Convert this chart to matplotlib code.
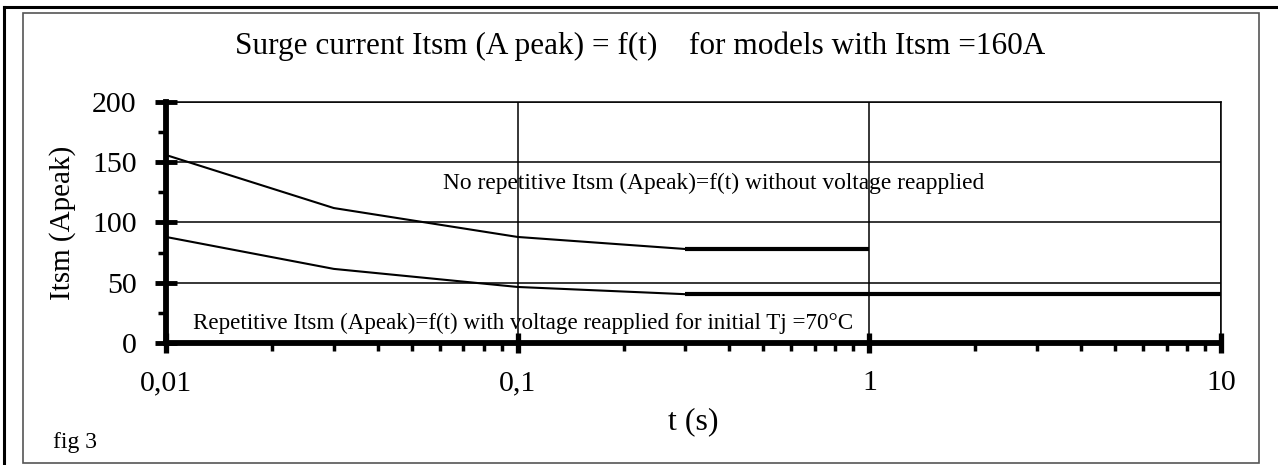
import matplotlib
matplotlib.use("Agg")
import matplotlib.pyplot as plt
from matplotlib.lines import Line2D
from matplotlib.patches import Rectangle
from matplotlib.ticker import FixedLocator, LogLocator, NullFormatter

plt.rcParams['font.family'] = ['Liberation Serif', 'DejaVu Serif']

# no repetitive surge (without voltage reapplied)
t_norep = [0.01, 0.03, 0.1, 0.3]
i_norep = [156, 112, 88, 78]
t_norep_flat = [0.3, 1]
i_norep_flat = [78, 78]

# repetitive surge (voltage reapplied, Tj = 70 C)
t_rep = [0.01, 0.03, 0.1, 0.3]
i_rep = [88, 61.5, 46.5, 40.5]
t_rep_flat = [0.3, 10]
i_rep_flat = [40.5, 40.5]

x_ticks = [0.01, 0.1, 1, 10]
x_labels = ['0,01', '0,1', '1', '10']
y_ticks = [0, 50, 100, 150, 200]

W, H = 1278, 465
fig = plt.figure(figsize=(W / 100, H / 100), dpi=100)
ax = fig.add_axes([166 / W, 122 / H, (1221 - 166) / W, (343 - 102) / H])

ax.plot(t_norep, i_norep, color='black', lw=1.5)
ax.plot(t_norep_flat, i_norep_flat, color='black', lw=3.0, solid_capstyle='butt')
ax.plot(t_rep, i_rep, color='black', lw=1.5)
ax.plot(t_rep_flat, i_rep_flat, color='black', lw=3.0, solid_capstyle='butt')

ax.set_xscale('log')
ax.set_xlim(0.01, 10)
ax.set_ylim(0, 200)

ax.xaxis.set_major_locator(FixedLocator(x_ticks))
ax.set_xticklabels(x_labels)
ax.xaxis.set_minor_locator(LogLocator(base=10, subs=range(2, 10)))
ax.xaxis.set_minor_formatter(NullFormatter())
ax.yaxis.set_major_locator(FixedLocator(y_ticks))
ax.yaxis.set_minor_locator(FixedLocator([25, 75, 125, 175]))

ax.grid(True, which='major', color='black', lw=1.1)
ax.set_axisbelow(True)

for s in ['left', 'bottom']:
    ax.spines[s].set_linewidth(4.2)
for s in ['top', 'right']:
    ax.spines[s].set_linewidth(1.1)

ax.tick_params(axis='y', which='major', direction='inout', length=16, width=3.5,
               labelsize=21.5, pad=13)
ax.tick_params(axis='y', which='minor', direction='out', length=6, width=2.5)
ax.tick_params(axis='x', which='major', direction='inout', length=15, width=3.8,
               labelsize=21.5, pad=12)
ax.tick_params(axis='x', which='minor', direction='out', length=6, width=2.5)

ax.set_ylabel('Itsm (Apeak)', fontsize=21, labelpad=12)
ax.set_xlabel('t (s)', fontsize=23, labelpad=8)

fig.text(640 / W, 1 - 46 / H,
         'Surge current Itsm (A peak) = f(t)    for models with Itsm =160A',
         ha='center', va='center', fontsize=22.5)
fig.text(443 / W, 1 - 183 / H,
         'No repetitive Itsm (Apeak)=f(t) without voltage reapplied',
         ha='left', va='center', fontsize=16.8)
fig.text(193 / W, 1 - 323 / H,
         'Repetitive Itsm (Apeak)=f(t) with voltage reapplied for initial Tj =70°C',
         ha='left', va='center', fontsize=16.6)
fig.text(53 / W, 1 - 442 / H, 'fig 3', ha='left', va='center', fontsize=17)

# page frame
fig.add_artist(Line2D([4 / W, 1], [1 - 7 / H, 1 - 7 / H], color='black', lw=2.2))
fig.add_artist(Line2D([4 / W, 4 / W], [0, 1 - 7 / H], color='black', lw=2.2))
fig.add_artist(Rectangle((23 / W, 1 - 463 / H), (1259 - 23) / W, (463 - 13) / H,
                         fill=False, edgecolor='#555555', lw=1.2))

fig.savefig('out.png', dpi=100)
